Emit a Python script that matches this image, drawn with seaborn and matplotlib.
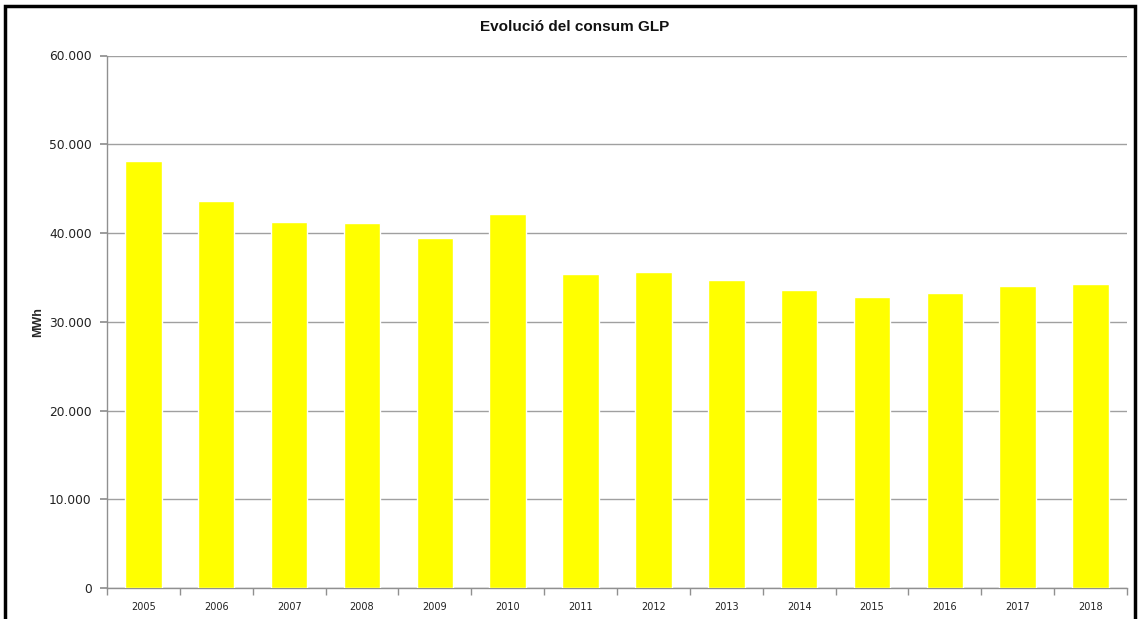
import matplotlib
matplotlib.use("Agg")
import matplotlib.pyplot as plt
import seaborn as sns
import pandas as pd
from matplotlib.ticker import FuncFormatter, FixedLocator
from matplotlib.patches import Rectangle

years = ["2005", "2006", "2007", "2008", "2009", "2010", "2011",
         "2012", "2013", "2014", "2015", "2016", "2017", "2018"]
consum_mwh = [48150, 43600, 41250, 41100, 39400, 42100, 35400,
              35600, 34700, 33600, 32750, 33250, 34000, 34250]
title = "Evolució del consum GLP"
ylabel = "MWh"

df = pd.DataFrame({"year": years, "consum": consum_mwh})

sns.set_theme(style="white")
plt.rcParams["font.family"] = ["DejaVu Sans"]

fig = plt.figure(figsize=(11.4, 6.19), dpi=100)
ax = fig.add_axes([107/1140, 1-588/619, (1127-107)/1140, (588-55.5)/619])

sns.barplot(data=df, x="year", y="consum", color="#FFFF00", saturation=1,
            width=0.5, ax=ax, zorder=3)

ax.set_ylim(0, 60000)
ax.set_xlim(-0.5, len(years) - 0.5)
ax.set_yticks(range(0, 60001, 10000))
ax.yaxis.set_major_formatter(FuncFormatter(lambda v, p: f"{int(v):,}".replace(",", ".")))
ax.grid(axis="y", color="#a0a0a0", linewidth=1, zorder=0)
ax.set_axisbelow(True)

for s in ["top", "right"]:
    ax.spines[s].set_visible(False)
for s in ["left", "bottom"]:
    ax.spines[s].set_color("#909090")
    ax.spines[s].set_linewidth(1)

ax.tick_params(axis="y", which="major", left=True, length=5, color="#909090",
               labelsize=8.8, labelcolor="#222222", pad=6)
ax.tick_params(axis="x", which="major", bottom=False, labelsize=7,
               labelcolor="#222222", pad=4)
ax.xaxis.set_minor_locator(FixedLocator([i - 0.5 for i in range(len(years) + 1)]))
ax.tick_params(axis="x", which="minor", bottom=True, length=5, color="#909090")

ax.set_xlabel("")
ax.set_ylabel(ylabel, fontsize=9, fontweight="bold", family=["Liberation Sans", "DejaVu Sans"])
ax.yaxis.set_label_coords(-0.062, 0.5)

fig.text(575/1140, 1 - 27/619, title, ha="center", va="center",
         fontsize=11, fontweight="bold", family=["Liberation Sans", "DejaVu Sans"],
         color="#111111")

fig.patches.append(Rectangle((5/1140, -0.05), (1135-5)/1140, 1.05 - 6/619,
                             transform=fig.transFigure, fill=False,
                             edgecolor="black", linewidth=2.5, zorder=10))

fig.savefig("out.png", dpi=100)
